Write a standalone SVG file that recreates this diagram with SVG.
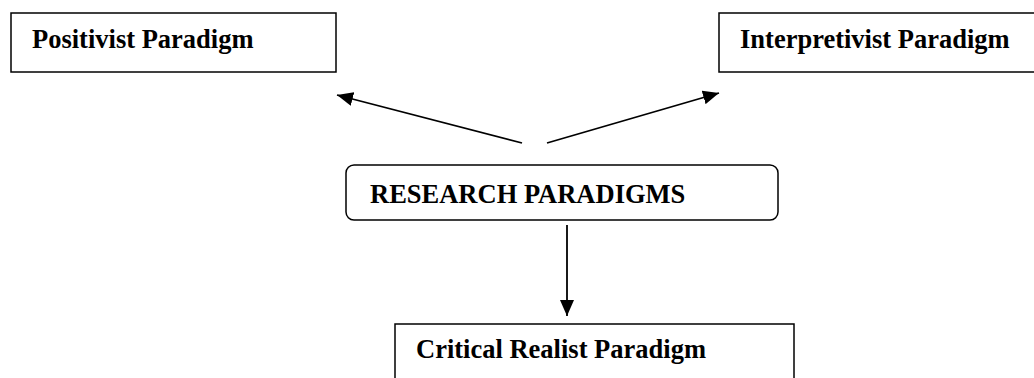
<svg xmlns="http://www.w3.org/2000/svg" width="1034" height="378" viewBox="0 0 1034 378">
  <style>
    .box { fill: #ffffff; stroke: #000000; stroke-width: 1.5; }
    .lbl { font-family: "Liberation Serif", "Times New Roman", serif; font-weight: bold; font-size: 26.5px; fill: #000000; }
    .conn { stroke: #000000; stroke-width: 1.8; fill: none; marker-end: url(#arrow); }
  </style>
  <defs>
    <marker id="arrow" markerUnits="userSpaceOnUse" markerWidth="16" markerHeight="14" refX="16" refY="7" orient="auto">
      <path d="M0,0 L16,7 L0,14 Z" fill="#000000"/>
    </marker>
  </defs>
  <g id="positivist">
    <rect class="box" x="11" y="13" width="325" height="59"/>
    <text class="lbl" x="32" y="48">Positivist Paradigm</text>
  </g>
  <g id="interpretivist">
    <rect class="box" x="719" y="13" width="330" height="59"/>
    <text class="lbl" x="740" y="48">Interpretivist Paradigm</text>
  </g>
  <g id="research">
    <rect class="box" x="346" y="165" width="432" height="55" rx="8" ry="8"/>
    <text class="lbl" x="370" y="203">RESEARCH PARADIGMS</text>
  </g>
  <g id="critical">
    <rect class="box" x="395" y="324" width="399" height="70"/>
    <text class="lbl" x="416" y="358">Critical Realist Paradigm</text>
  </g>
  <g id="connectors">
    <line class="conn" x1="522" y1="143" x2="337" y2="95"/>
    <line class="conn" x1="547" y1="143" x2="719" y2="93"/>
    <line class="conn" x1="567" y1="225" x2="567" y2="316"/>
  </g>
</svg>
